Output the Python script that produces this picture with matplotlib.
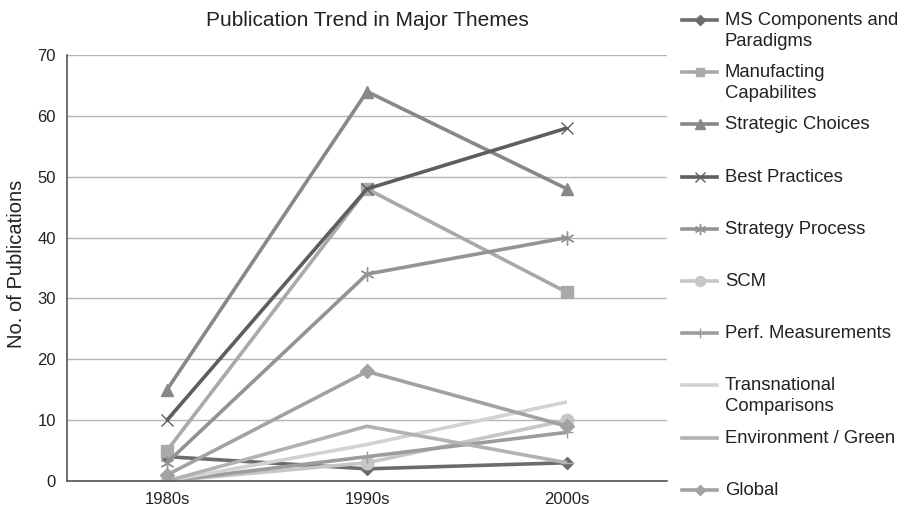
import matplotlib.pyplot as plt
from matplotlib.lines import Line2D
import numpy as np

plt.rcParams['font.family'] = ['Liberation Sans', 'DejaVu Sans']

# 数据
decades = ["1980s", "1990s", "2000s"]
themes = [
    "MS Components and\nParadigms",
    "Manufacting\nCapabilites",
    "Strategic Choices",
    "Best Practices",
    "Strategy Process",
    "SCM",
    "Perf. Measurements",
    "Transnational\nComparisons",
    "Environment / Green",
    "Global",
]
ms_components = [4, 2, 3]
manufacturing = [5, 48, 31]
strategic_choices = [15, 64, 48]
best_practices = [10, 48, 58]
strategy_process = [3, 34, 40]
scm = [0, 3, 10]
perf_measurements = [0, 4, 8]
transnational = [0, 6, 13]
environment = [0, 9, 3]
global_theme = [1, 18, 9]

series = [ms_components, manufacturing, strategic_choices, best_practices,
          strategy_process, scm, perf_measurements, transnational,
          environment, global_theme]

# 样式（灰度）
colors = ["#6c6c6e", "#a9a9ab", "#88888a", "#5e5e60", "#939395",
          "#c6c6c8", "#9c9c9e", "#d2d2d4", "#b2b2b4", "#a2a2a4"]
markers = ["D", "s", "^", "x", "asterisk", "o", "+", None, "_", "D"]
msizes = [6, 8, 9, 9, 10, 9, 9, 0, 9, 7]
line_markers = ("x", "+", "_", "asterisk")


def mk(m):
    return (6, 2, 0) if m == "asterisk" else m


fig = plt.figure(figsize=(9.01, 5.12), dpi=100)
ax = fig.add_axes([67 / 901, 1 - 481 / 512, 600 / 901, 426 / 512])

x = np.arange(len(decades))
for vals, c, m, ms in zip(series, colors, markers, msizes):
    if m is None:
        ax.plot(x, vals, color=c, lw=2.6, solid_capstyle="butt")
    elif m in line_markers:
        ax.plot(x, vals, color=c, lw=2.6, marker=mk(m), ms=ms, mew=1.0,
                mec=c, solid_capstyle="butt")
    else:
        ax.plot(x, vals, color=c, lw=2.6, marker=m, ms=ms, mfc=c, mec=c,
                solid_capstyle="butt")

ax.set_xlim(-0.5, 2.5)
ax.set_ylim(0, 70)
ax.set_yticks(range(0, 71, 10))
ax.set_xticks(x)
ax.set_xticklabels(decades)
ax.tick_params(length=0, labelsize=12, colors="#222222", pad=8)
ax.yaxis.grid(True, color="#b4b4b4", lw=1.0)
ax.set_axisbelow(True)
for s in ["top", "right"]:
    ax.spines[s].set_visible(False)
for s in ["left", "bottom"]:
    ax.spines[s].set_color("#555555")
    ax.spines[s].set_linewidth(1.2)

# 坐标轴标题与图标题
fig.text(17 / 901, 1 - 264 / 512, "No. of Publications", rotation=90,
         ha="center", va="center", fontsize=14.5, color="#222222")
fig.text(367 / 901, 1 - 20 / 512, "Publication Trend in Major Themes",
         ha="center", va="center", fontsize=15, color="#222222")

# 图例（右侧手动绘制）
for i, (name, c, m, ms) in enumerate(zip(themes, colors, markers, msizes)):
    yl = 1 - (20 + i * 52.2) / 512
    fig.add_artist(Line2D([682 / 901, 717 / 901], [yl, yl], color=c, lw=2.6,
                          transform=fig.transFigure))
    if m is not None:
        fig.add_artist(Line2D([699.5 / 901], [yl], color=c, marker=mk(m),
                              ms=ms * 0.8, mfc=c, mec=c, mew=1.0,
                              transform=fig.transFigure))
    fig.text(725 / 901, yl + 8 / 512, name, ha="left", va="top",
             fontsize=13.3, color="#222222", linespacing=1.3)

fig.savefig("out.png", dpi=100)
